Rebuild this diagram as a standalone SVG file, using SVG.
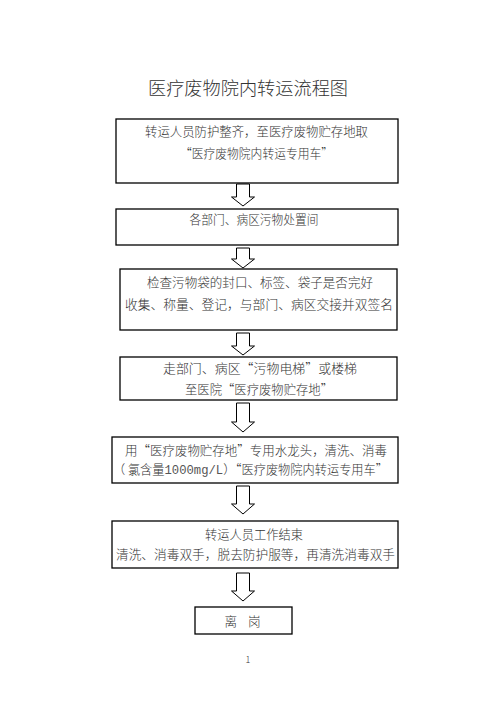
<svg xmlns="http://www.w3.org/2000/svg" width="496" height="702" viewBox="0 0 496 702">
<style>
.box{fill:#fff;stroke:#000;stroke-width:1.3}
.arr{fill:#fff;stroke:#000;stroke-width:1}
text{font-family:"Noto Sans CJK SC","Noto Sans CJK JP",sans-serif;font-weight:300;fill:#333;font-size:12.6px;text-anchor:middle}
.title{font-size:18px}
.mono{font-family:"Liberation Mono",monospace;font-weight:400;fill:#555}
</style>
<rect width="496" height="702" fill="#fff"/>
<text class="title" x="248" y="95" textLength="200" lengthAdjust="spacingAndGlyphs">医疗废物院内转运流程图</text>
<g id="connectors">
<path class="arr" d="M236.5,184 V197 H231.5 L243,206 L254.5,197 H249.5 V184 Z"/>
<path class="arr" d="M236.5,248 V259 H231.5 L243,268 L254.5,259 H249.5 V248 Z"/>
<path class="arr" d="M236.5,333 V346 H231.5 L243,355 L254.5,346 H249.5 V333 Z"/>
<path class="arr" d="M236.5,403 V422 H231.5 L243,432 L254.5,422 H249.5 V403 Z"/>
<path class="arr" d="M236.5,486 V504 H231.5 L243,514 L254.5,504 H249.5 V486 Z"/>
<path class="arr" d="M236.5,573 V591 H231.5 L243,601 L254.5,591 H249.5 V573 Z"/>
</g>
<g id="n1">
<rect class="box" x="116" y="119" width="282" height="64"/>
<text x="256.5" y="136" textLength="223" lengthAdjust="spacingAndGlyphs">转运人员防护整齐，至医疗废物贮存地取</text>
<text x="256.5" y="158" textLength="153" lengthAdjust="spacingAndGlyphs">“医疗废物院内转运专用车”</text>
</g>
<g id="n2">
<rect class="box" x="116" y="209" width="282" height="36"/>
<text x="254" y="224" textLength="129" lengthAdjust="spacingAndGlyphs">各部门、病区污物处置间</text>
</g>
<g id="n3">
<rect class="box" x="120" y="269" width="277" height="61"/>
<text x="260" y="287" textLength="226" lengthAdjust="spacingAndGlyphs">检查污物袋的封口、标签、袋子是否完好</text>
<text x="259" y="309" textLength="268" lengthAdjust="spacingAndGlyphs">收集、称量、登记，与部门、病区交接并双签名</text>
</g>
<g id="n4">
<rect class="box" x="120" y="357" width="277" height="43"/>
<text x="260" y="373" textLength="194" lengthAdjust="spacingAndGlyphs">走部门、病区“污物电梯”或楼梯</text>
<text x="259" y="394" textLength="148" lengthAdjust="spacingAndGlyphs">至医院“医疗废物贮存地”</text>
</g>
<g id="n5">
<rect class="box" x="112" y="437" width="286" height="46"/>
<text x="256" y="455" textLength="262" lengthAdjust="spacingAndGlyphs">用“医疗废物贮存地”专用水龙头，清洗、消毒</text>
<text x="250.5" y="474" textLength="275" lengthAdjust="spacingAndGlyphs">（ 氯含量<tspan class="mono">1000mg/L</tspan>）“医疗废物院内转运专用车”</text>
</g>
<g id="n6">
<rect class="box" x="112" y="521" width="286" height="47"/>
<text x="254" y="539" textLength="98" lengthAdjust="spacingAndGlyphs">转运人员工作结束</text>
<text x="255.5" y="559" textLength="279" lengthAdjust="spacingAndGlyphs">清洗、消毒双手，脱去防护服等，再清洗消毒双手</text>
</g>
<g id="n7">
<rect class="box" x="195" y="607" width="97" height="27"/>
<text x="242.5" y="626" textLength="36" lengthAdjust="spacing">离　岗</text>
</g>
<text x="248" y="663" style="font-size:9px">1</text>
</svg>
